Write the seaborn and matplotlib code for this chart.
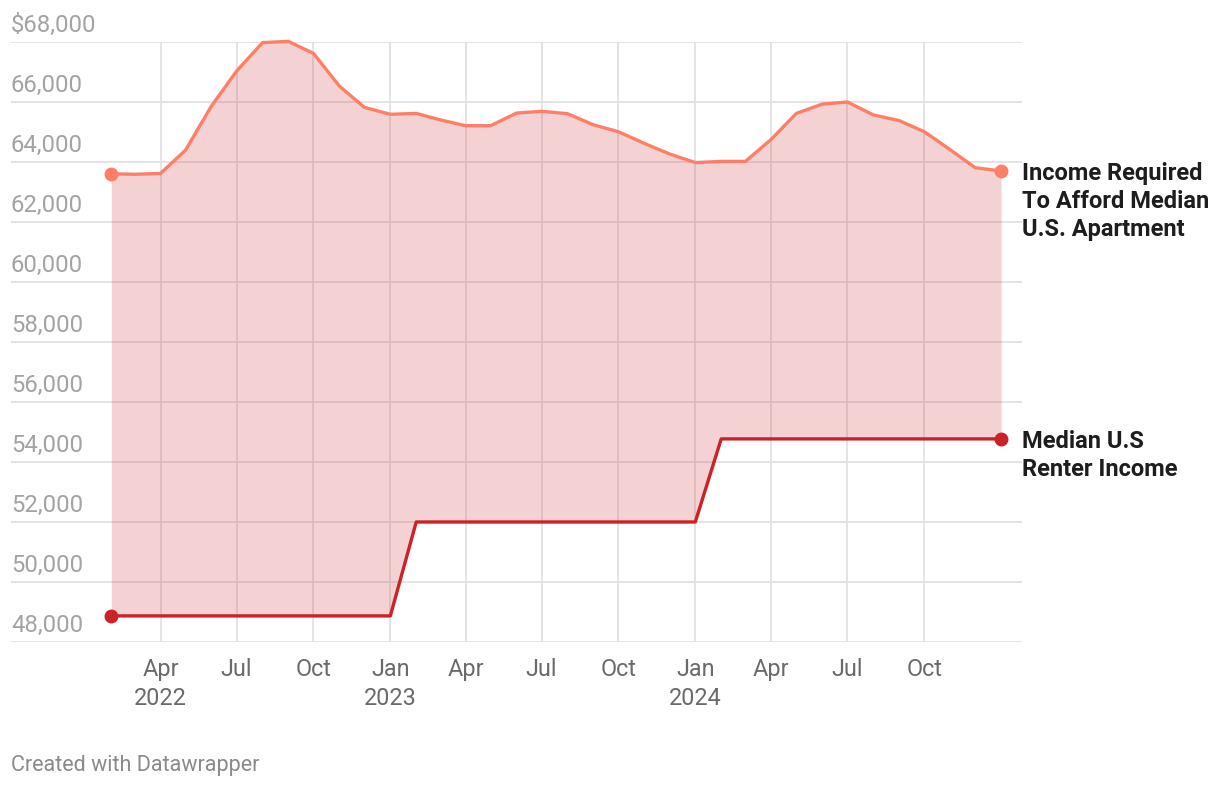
import pandas as pd
import matplotlib.pyplot as plt
import seaborn as sns

# data (monthly, first of month, Feb 2022 - Jan 2025)
months = pd.date_range("2022-02-01", "2025-01-01", freq="MS")
required_income = [
    63610, 63590, 63620, 64400, 65870, 67030, 67980, 68020, 67620, 66530, 65820,
    65590, 65620, 65410, 65210, 65210, 65630, 65690, 65610, 65240, 65010, 64620, 64270,
    63980, 64020, 64020, 64760, 65620, 65930, 66000, 65570, 65380, 65010, 64410, 63810,
    63700,
]
renter_income = [48870] * 12 + [52000] * 12 + [54770] * 12

y_ticks = [48000, 50000, 52000, 54000, 56000, 58000, 60000, 62000, 64000, 66000, 68000]
x_ticks = ["2022-04-01", "2022-07-01", "2022-10-01", "2023-01-01", "2023-04-01", "2023-07-01",
           "2023-10-01", "2024-01-01", "2024-04-01", "2024-07-01", "2024-10-01"]
x_tick_labels = ["Apr\n2022", "Jul", "Oct", "Jan\n2023", "Apr", "Jul", "Oct",
                 "Jan\n2024", "Apr", "Jul", "Oct"]

df = pd.DataFrame({"date": months, "required": required_income, "renter": renter_income})

sns.set_style("white")
plt.rcParams["font.family"] = ["Roboto", "DejaVu Sans"]

upper_color = "#ff7f66"
lower_color = "#cc2127"

fig = plt.figure(figsize=(12.2, 7.88), dpi=100)
ax = fig.add_axes([11 / 1220, 146 / 788, 1011 / 1220, 600 / 788])

ax.fill_between(df["date"], df["renter"], df["required"], color=lower_color,
                alpha=0.2, linewidth=0, zorder=2)
sns.lineplot(data=df, x="date", y="required", ax=ax, color=upper_color, linewidth=2.4,
             zorder=3, clip_on=False)
sns.lineplot(data=df, x="date", y="renter", ax=ax, color=lower_color, linewidth=2.4,
             zorder=3, clip_on=False)

# end point markers
ends = df.iloc[[0, -1]]
ax.plot(ends["date"], ends["required"], "o", color=upper_color, markersize=9, zorder=4,
        clip_on=False)
ax.plot(ends["date"], ends["renter"], "o", color=lower_color, markersize=9, zorder=4,
        clip_on=False)

ax.set_xlim(pd.Timestamp("2021-10-04"), pd.Timestamp("2025-01-26"))
ax.set_ylim(48000, 68000)

# gridlines
ax.set_yticks(y_ticks)
ax.set_xticks(pd.to_datetime(x_ticks))
ax.grid(True, color="#e2e2e2", linewidth=1.3, zorder=1)
ax.set_axisbelow(True)
for s in ax.spines.values():
    s.set_visible(False)

ax.set_yticklabels([])
ax.tick_params(axis="y", length=0)
ax.set_xticklabels(x_tick_labels)
ax.tick_params(axis="x", length=0, pad=11.5, labelsize=16.8, labelcolor="#6a6a6a")
for lbl in ax.get_xticklabels():
    lbl.set_linespacing(1.33)
ax.set_xlabel("")
ax.set_ylabel("")

# y labels sit above their gridlines
for v in y_ticks:
    txt = f"${v:,}" if v == y_ticks[-1] else f"{v:,}"
    ax.annotate(txt, xy=(0, v), xycoords=ax.get_yaxis_transform(), xytext=(0, 3.5),
                textcoords="offset points", ha="left", va="bottom", fontsize=17.2,
                color="#a3a3a3")

# direct labels
last = df.iloc[-1]
ax.annotate("Income Required\nTo Afford Median\nU.S. Apartment", xy=(1, last["required"]),
            xycoords=ax.get_yaxis_transform(), xytext=(0, 6.5), textcoords="offset points",
            ha="left", va="top", fontsize=17, fontweight="bold", color="#1d1d1d",
            linespacing=1.27, annotation_clip=False)
ax.annotate("Median U.S\nRenter Income", xy=(1, last["renter"]),
            xycoords=ax.get_yaxis_transform(), xytext=(0, 6.5), textcoords="offset points",
            ha="left", va="top", fontsize=17, fontweight="bold", color="#1d1d1d",
            linespacing=1.27, annotation_clip=False)

fig.text(11 / 1220, 1 - 765 / 788, "Created with Datawrapper", ha="left", va="center",
         fontsize=15.5, color="#8a8a8a")

fig.savefig("out.png", dpi=100)
